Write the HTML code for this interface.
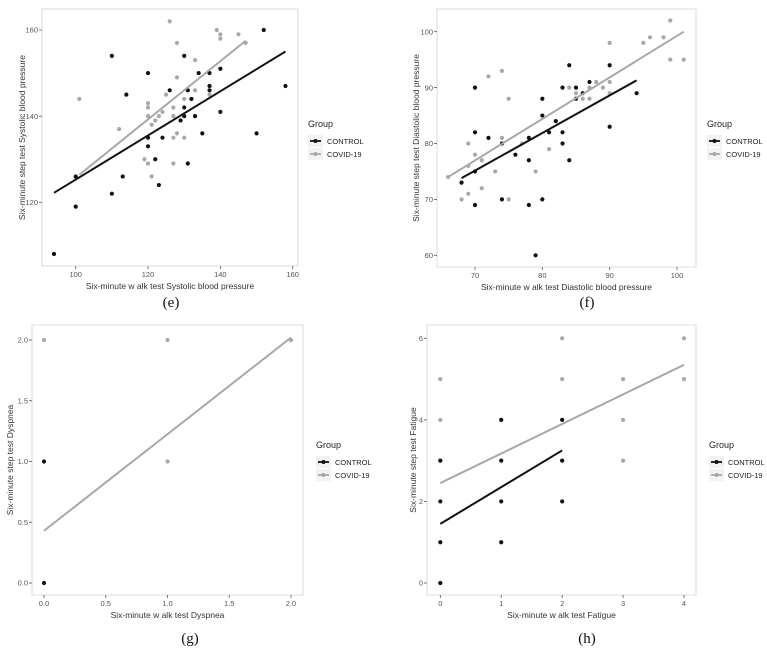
<!DOCTYPE html>
<html><head><meta charset="utf-8"><style>
html,body{margin:0;padding:0;background:#fff;}
svg{display:block;font-family:"Liberation Sans",sans-serif;}
</style></head><body>
<svg id="fig" width="767" height="650"></svg>
<script>
// Panel (e)
const eCtrlX=[94,100,100,110,110,114,113,120,120,120,122,123,124,126,130,130,130,129,131,131,132,133,134,135,137,137,137,140,140,150,152,158];
const eCtrlY=[108,126,119,154,122,145,126,150,135,133,130,124,135,146,154,142,140,139,146,129,144,140,150,136,150,147,146,151,141,136,160,147];
const eCovX=[101,112,119,120,120,120,120,121,121,122,123,124,125,126,127,127,127,127,128,128,128,130,130,133,133,137,139,140,140,145,147];
const eCovY=[144,137,130,143,142,140,129,138,126,139,140,141,145,162,142,140,135,129,157,149,136,144,135,153,146,145,160,159,158,159,157];
const eCtrlLine=[[94,122.2],[158,155]];
const eCovLine=[[101,126.4],[147,157.5]];
const eXTicks=[100,120,140,160];
const eYTicks=[120,140,160];
// Panel (f)
const fCtrlX=[68,70,70,70,70,72,74,74,76,78,78,78,79,80,80,80,81,82,83,83,83,84,84,85,85,86,87,90,90,94];
const fCtrlY=[73,90,82,75,69,81,80,70,78,81,77,69,60,88,85,70,82,84,90,82,80,94,77,90,88,89,91,94,83,89];
const fCovX=[66,68,69,69,69,70,71,71,72,73,74,74,75,75,77,79,81,84,85,86,87,87,88,89,90,90,90,95,96,98,99,99,101];
const fCovY=[74,70,80,76,71,78,77,72,92,75,93,81,88,70,80,75,79,90,89,88,90,88,91,90,98,91,89,98,99,99,102,95,95];
const fCtrlLine=[[68,73.8],[94,91.3]];
const fCovLine=[[66,74],[101,100]];
const fXTicks=[70,80,90,100];
const fYTicks=[60,70,80,90,100];
// Panel (g)
const gCtrlX=[0,0];
const gCtrlY=[1,0];
const gCovX=[0,1,1,2];
const gCovY=[2,2,1,2];
const gCovLine=[[0,0.43],[2,2.02]];
const gXTicks=["0.0","0.5","1.0","1.5","2.0"];
const gYTicks=["0.0","0.5","1.0","1.5","2.0"];
// Panel (h)
const hCtrlX=[0,0,0,0,1,1,1,1,2,2,2];
const hCtrlY=[0,1,2,3,1,2,3,4,2,3,4];
const hCovX=[0,0,0,2,2,3,3,3,4,4];
const hCovY=[3,4,5,5,6,3,4,5,5,6];
const hCtrlLine=[[0,1.45],[2,3.25]];
const hCovLine=[[0,2.45],[4,5.35]];
const hXTicks=["0","1","2","3","4"];
const hYTicks=["0","2","4","6"];

const NS="http://www.w3.org/2000/svg";
const svg=document.getElementById('fig');
function mk(tag,attrs,parent,text){const el=document.createElementNS(NS,tag);for(const k in attrs)el.setAttribute(k,attrs[k]);if(text!==undefined)el.textContent=text;(parent||svg).appendChild(el);return el;}

function panel(p){
  const g=mk('g',{});
  
  
  const sx=v=>p.px0+(v-p.x0)*(p.px1-p.px0)/(p.x1-p.x0);
  const sy=v=>p.py0+(v-p.y0)*(p.py1-p.py0)/(p.y1-p.y0);
  const bg=mk('rect',{x:p.L,y:p.T,width:p.R-p.L,height:p.B-p.T,fill:'#fff',stroke:'#e3e3e3','stroke-width':1.3},g);
  
  
  p.xt.forEach(t=>{const v=parseFloat(t);const x=sx(v);
    mk('line',{x1:x,x2:x,y1:p.B,y2:p.B+3,stroke:'#555','stroke-width':0.8},g);
    const tx=mk('text',{x:x,y:p.B+11,'font-size':7.5,fill:'#555','text-anchor':'middle'},g,t);
    
    });
  p.yt.forEach(t=>{const v=parseFloat(t);const y=sy(v);
    mk('line',{x1:p.L-3,x2:p.L,y1:y,y2:y,stroke:'#555','stroke-width':0.8},g);
    const tx=mk('text',{x:p.L-4,y:y+2.7,'font-size':7.5,fill:'#555','text-anchor':'end'},g,t);
    
    });
  const draw=(X,Y,col,name)=>X.forEach((v,i)=>{const c=mk('circle',{cx:sx(v),cy:sy(Y[i]),r:2.1,fill:col},g);
    
    });
  draw(p.covX,p.covY,'#a8a8a8','point-covid');
  draw(p.ctrlX,p.ctrlY,'#111','point-control');
  if(p.covLine){const l=mk('line',{x1:sx(p.covLine[0][0]),y1:sy(p.covLine[0][1]),x2:sx(p.covLine[1][0]),y2:sy(p.covLine[1][1]),stroke:'#a8a8a8','stroke-width':2},g);
    
    }
  if(p.ctrlLine){const l=mk('line',{x1:sx(p.ctrlLine[0][0]),y1:sy(p.ctrlLine[0][1]),x2:sx(p.ctrlLine[1][0]),y2:sy(p.ctrlLine[1][1]),stroke:'#111','stroke-width':2},g);
    
    }
  const xl=mk('text',{x:(p.L+p.R)/2,y:p.B+23,'font-size':8.5,fill:'#333','text-anchor':'middle'},g,p.xlab);
  
  
  const yc=(p.T+p.B)/2;
  const yl=mk('text',{x:p.ylx,y:yc,'font-size':8.5,fill:'#333','text-anchor':'middle',transform:`rotate(-90 ${p.ylx} ${yc})`},g,p.ylab);
  
  
  // legend
  const lg=mk('g',{},g);
  
  
  mk('text',{x:p.lgx,y:p.lgy,'font-size':9,fill:'#222'},lg,'Group');
  [['CONTROL','#111'],['COVID-19','#a8a8a8']].forEach((e,i)=>{
    const y=p.lgy+8+i*13;
    const ent=mk('g',{},lg);
    
    
    mk('rect',{x:p.lgx,y:y,width:15,height:12,fill:'#f2f2f2'},ent);
    mk('line',{x1:p.lgx+2,x2:p.lgx+13,y1:y+6,y2:y+6,stroke:e[1],'stroke-width':1.8},ent);
    mk('circle',{cx:p.lgx+7.5,cy:y+6,r:2,fill:e[1]},ent);
    mk('text',{x:p.lgx+19,y:y+9,'font-size':7.5,fill:'#222'},ent,e[0]);
  });
  const cap=mk('text',{x:p.capx,y:p.capy,'font-size':15,fill:'#111','text-anchor':'middle','font-family':'Liberation Serif, serif'},g,'('+p.id+')');
  
  
}

panel({id:'e',L:42,R:298,T:9,B:266,x0:100,x1:160,px0:75.7,px1:292.7,y0:120,y1:160,py0:202.3,py1:30,
  xt:eXTicks.map(String),yt:eYTicks.map(String),ctrlX:eCtrlX,ctrlY:eCtrlY,covX:eCovX,covY:eCovY,ctrlLine:eCtrlLine,covLine:eCovLine,
  xlab:'Six-minute w alk test Systolic blood pressure',ylab:'Six-minute step test Systolic blood pressure',ylx:25,lgx:308,lgy:127,capx:171,capy:307});
panel({id:'f',L:437,R:696,T:9,B:267,x0:70,x1:100,px0:475,px1:677,y0:60,y1:100,py0:255.3,py1:31.7,
  xt:fXTicks.map(String),yt:fYTicks.map(String),ctrlX:fCtrlX,ctrlY:fCtrlY,covX:fCovX,covY:fCovY,ctrlLine:fCtrlLine,covLine:fCovLine,
  xlab:'Six-minute w alk test Diastolic blood pressure',ylab:'Six-minute step test Diastolic blood pressure',ylx:419,lgx:707,lgy:127,capx:587,capy:307});
panel({id:'g',L:32,R:303,T:325,B:595,x0:0,x1:2,px0:44,px1:291,y0:0,y1:2,py0:583,py1:340,
  xt:gXTicks,yt:gYTicks,ctrlX:gCtrlX,ctrlY:gCtrlY,covX:gCovX,covY:gCovY,ctrlLine:null,covLine:gCovLine,
  xlab:'Six-minute w alk test Dyspnea',ylab:'Six-minute step test Dyspnea',ylx:13,lgx:316,lgy:448,capx:190,capy:643});
panel({id:'h',L:427,R:696,T:325,B:595,x0:0,x1:4,px0:440.3,px1:684,y0:0,y1:6,py0:583,py1:338.3,
  xt:hXTicks,yt:hYTicks,ctrlX:hCtrlX,ctrlY:hCtrlY,covX:hCovX,covY:hCovY,ctrlLine:hCtrlLine,covLine:hCovLine,
  xlab:'Six-minute w alk test Fatigue',ylab:'Six-minute step test Fatigue',ylx:416,lgx:709,lgy:448,capx:587,capy:643});
</script>
</body></html>
